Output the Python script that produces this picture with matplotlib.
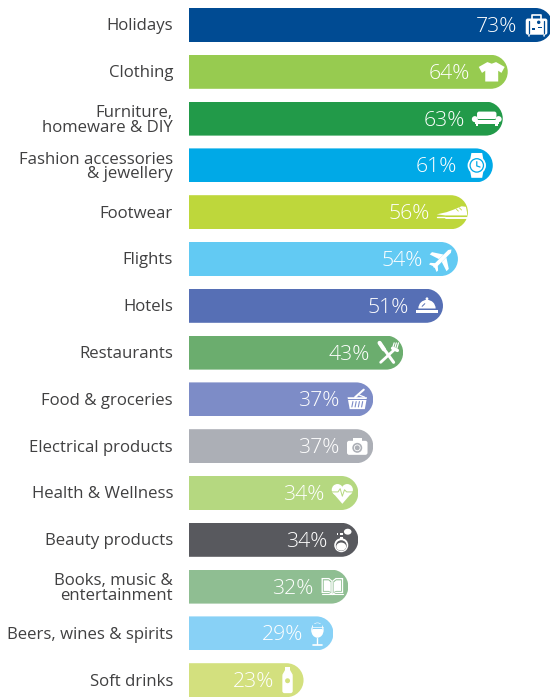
import matplotlib
matplotlib.use("Agg")
import matplotlib.pyplot as plt
from matplotlib.patches import Circle, FancyBboxPatch, PathPatch, Polygon, Rectangle, Wedge, Ellipse
from matplotlib.path import Path
from matplotlib.transforms import Affine2D

plt.rcParams['font.family'] = ['Open Sans', 'DejaVu Sans']

categories = ["Holidays", "Clothing", "Furniture,\nhomeware & DIY",
              "Fashion accessories\n& jewellery", "Footwear", "Flights", "Hotels",
              "Restaurants", "Food & groceries", "Electrical products",
              "Health & Wellness", "Beauty products", "Books, music &\nentertainment",
              "Beers, wines & spirits", "Soft drinks"]
values = [73, 64, 63, 61, 56, 54, 51, 43, 37, 37, 34, 34, 32, 29, 23]
colors = ["#004B93", "#97CB50", "#229A49", "#00A9E7", "#BED73B", "#62CAF3", "#566FB5",
          "#6BAD6E", "#7D8CC7", "#ACAFB6", "#B5D880", "#58595E", "#8FBE92", "#88D1F6",
          "#D3E07E"]
icons = ["case", "shirt", "sofa", "watch", "shoe", "plane", "bell", "cutlery",
         "basket", "camera", "heart", "perfume", "book", "wine", "bottle"]

# px distance of the value label from the end of the bar
label_gap = [35, 38, 38, 36, 38, 35, 34, 33, 34, 34, 34, 31, 35, 30, 29]

W = "white"
PX_X = 4.98     # px per percent
PX_Y = 46.8     # px per row
BAR_H = 34 / PX_Y
R = 17 / PX_X   # end cap radius in x units
K = 0.5523      # bezier factor for a quarter circle

fig = plt.figure(figsize=(5.5, 6.97), dpi=100)
ax = fig.add_axes([0, 0, 1, 1])
ax.set_xlim(-189 / PX_X, 361 / PX_X)
ax.set_ylim((697 - 25) / PX_Y, -25 / PX_Y)
ax.axis("off")


def cap_path(v, i):
    # shape used to clip a bar: square on the left, semicircle on the right
    t, b, h = i - BAR_H / 2, i + BAR_H / 2, BAR_H / 2
    verts = [(-5, t), (v - R, t), (v - R + K * R, t), (v, i - K * h), (v, i),
             (v, i + K * h), (v - R + K * R, b), (v - R, b), (-5, b), (-5, t)]
    codes = [Path.MOVETO, Path.LINETO, Path.CURVE4, Path.CURVE4, Path.CURVE4,
             Path.CURVE4, Path.CURVE4, Path.CURVE4, Path.LINETO, Path.CLOSEPOLY]
    return Path(verts, codes)


def draw_icon(name, tr, col):
    def poly(pts, fc=W):
        ax.add_patch(Polygon(pts, closed=True, fc=fc, ec="none", transform=tr))

    def rect(x, y, w, h, fc=W):
        ax.add_patch(Rectangle((x, y), w, h, fc=fc, ec="none", transform=tr))

    def rnd(x, y, w, h, r, fc=W, ec="none", lw=0):
        ax.add_patch(FancyBboxPatch((x + r, y + r), w - 2 * r, h - 2 * r,
                                    boxstyle=f"round,pad={r},rounding_size={r}",
                                    fc=fc, ec=ec, lw=lw, transform=tr))

    def circ(x, y, r, fc=W, ec="none", lw=0):
        ax.add_patch(Circle((x, y), r, fc=fc, ec=ec, lw=lw, transform=tr))

    def line(xs, ys, lw=1.0, c=W):
        ax.plot(xs, ys, color=c, lw=lw, transform=tr, solid_capstyle="round")

    if name == "case":
        rnd(-10, -6, 20, 15, 2)
        line([-4, -4, 4, 4], [-6, -9.5, -9.5, -6], 1.2)
        line([-7, -7], [-4, 7], 0.9, col)
        line([7, 7], [-4, 7], 0.9, col)
        circ(2, -2.5, 1.6, col)
        rect(1, 2, 4, 1.2, col)
        rect(-4, 3, 3, 1.2, col)
        circ(-7, 10, 0.8)
        circ(7, 10, 0.8)
    elif name == "shirt":
        poly([(-4, -9), (0, -7.5), (4, -9), (12, -4.5), (9, 1), (6, -1), (6, 9),
              (-6, 9), (-6, -1), (-9, 1), (-12, -4.5)])
    elif name == "sofa":
        rnd(-9, -6.5, 18, 7, 2)
        circ(-11, 0.5, 2.8)
        circ(11, 0.5, 2.8)
        rect(-11, 1, 22, 4)
        line([-7, 7], [0.8, 0.8], 0.7, col)
        rect(-10, 5, 2, 1.5)
        rect(8, 5, 2, 1.5)
    elif name == "watch":
        poly([(-5, -11.5), (5, -11.5), (6, -6), (-6, -6)])
        poly([(-5, 11.5), (5, 11.5), (6, 6), (-6, 6)])
        circ(0, 0, 8.5)
        circ(0, 0, 6.8, col)
        circ(0, 0, 5.6)
        line([0, 0, 3], [-3.5, 0.5, 1.5], 0.9, col)
    elif name == "shoe":
        poly([(-14, 2), (-5, 0), (2, -2.5), (9, -5.5), (13, -5), (14, 0), (14, 3), (-6, 3)])
        line([-14, -6], [4.3, 4.3], 1.0)
        line([-5, 14], [5, 5], 1.4)
        line([4, 6], [-3, -1], 0.6, col)
        line([7, 9], [-4, -2], 0.6, col)
    elif name == "plane":
        pl = Affine2D().rotate_deg(45) + tr
        for pts in ([(-1.8, -10), (0, -12.5), (1.8, -10), (1.8, 10), (0, 11), (-1.8, 10)],
                    [(-1.8, -4), (-11, 2), (-11, 5), (-1.8, 2)],
                    [(1.8, -4), (11, 2), (11, 5), (1.8, 2)],
                    [(-1.5, 7), (-5, 10), (-5, 12), (0, 10), (5, 12), (5, 10), (1.5, 7)]):
            ax.add_patch(Polygon(pts, closed=True, fc=W, ec="none", transform=pl))
    elif name == "bell":
        ax.add_patch(Wedge((0, 2.5), 8, 180, 360, fc=W, ec="none", transform=tr))
        rect(-10, 4, 20, 2.5)
        circ(0, -6.5, 1.3)
        line([-4.5, -2], [0.5, -2], 0.7, col)
    elif name == "cutlery":
        line([-7, 6], [-9, 9], 2.2)
        line([-7, -3], [-9, -3], 3.0)
        line([7, -6], [-3, 9], 2.0)
        for dx in (5, 7, 9):
            line([dx, dx + 1.5], [-4, -9], 0.9)
        line([5, 9.5], [-4, -2], 2.4)
    elif name == "basket":
        poly([(-9, -2), (9, -2), (7, 9), (-7, 9)])
        for dx in (-5, -2, 1, 4):
            line([dx + 1, dx], [2, 7], 0.8, col)
        line([-9.5, 9.5], [-0.4, -0.4], 0.7, col)
        line([-2, 6], [-2, -9], 1.5)
        line([2, 7], [-4, -2], 0.9)
    elif name == "camera":
        rnd(-9.5, -5, 19, 13, 2)
        rect(-4, -7.5, 8, 3)
        circ(0, 1.5, 4.6, col)
        circ(0, 1.5, 3.1)
        circ(0, 1.5, 2.3, col)
    elif name == "heart":
        circ(-4.5, -3, 5.3)
        circ(4.5, -3, 5.3)
        poly([(-9.3, -0.8), (9.3, -0.8), (0, 10)])
        rect(-3, -5, 6, 6)
        line([-10, -4, -2, 0, 2, 4, 10], [-1, -1, -4, 3, -3, -1, -1], 0.7, col)
    elif name == "perfume":
        circ(-1, 5, 6.5)
        circ(-1, 5.4, 5, col)
        ax.add_patch(Ellipse((-1, 6.3), 9.2, 7.5, fc=W, ec="none", transform=tr))
        rect(-2.5, -3, 3, 2.5)
        rect(-2.5, -6, 3, 2)
        ax.add_patch(Ellipse((5, -7.5), 7, 5.5, fc=W, ec="none", transform=tr))
        rect(-5, -6, 1.2, 1.2)
    elif name == "book":
        for s in (-1, 1):
            poly([(0, -5.5), (s * 3, -8), (s * 10, -8), (s * 10, 6), (s * 3, 6), (0, 8)])
            poly([(s * 1, -5), (s * 3.5, -6.8), (s * 8.8, -6.8), (s * 8.8, 4.8),
                  (s * 3.5, 4.8), (s * 1, 6)], fc=col)
            poly([(s * 1.5, -4), (s * 3.5, -5.8), (s * 8, -5.8), (s * 8, 4),
                  (s * 3.5, 4), (s * 1.5, 5)])
        line([-10, 10], [7.3, 7.3], 0.8)
    elif name == "wine":
        ax.add_patch(Ellipse((0, -3), 11.5, 14, fc=W, ec="none", transform=tr))
        ax.add_patch(Ellipse((0, -4.5), 9, 10, fc=col, ec="none", transform=tr))
        ax.add_patch(Ellipse((0, -2.5), 9, 9, fc=W, ec="none", transform=tr))
        rect(-4.5, -9, 9, 5, col)
        line([-4.8, 4.8], [-5.5, -5.5], 0.5)
        line([0, 0], [4, 10], 1.0)
        line([-4, 4], [11, 11], 1.2)
    elif name == "bottle":
        rect(-2.5, -12, 5, 2.5)
        poly([(-2, -10), (2, -10), (4.8, -5), (-4.8, -5)])
        rnd(-4.8, -6, 9.6, 18, 2)
        circ(0, 0.5, 2.3, col)


for i, (v, col, name) in enumerate(zip(values, colors, icons)):
    bar = ax.barh(i, v, height=BAR_H, color=col, linewidth=0)[0]
    clip = PathPatch(cap_path(v, i), fc="none", ec="none", transform=ax.transData)
    bar.set_clip_path(clip)

    ax.text(-16 / PX_X, i + 1.5 / PX_Y, categories[i], ha="right", va="center", fontsize=12.1,
            color="#404041", linespacing=0.9)
    ax.text(v - label_gap[i] / PX_X, i + 2 / PX_Y, f"{v}%", ha="right", va="center", fontsize=15.3,
            color=W, fontweight="light")

    ex, ey = ax.transData.transform((v - 16 / PX_X, i))
    tr = Affine2D().scale(1.08, -1.08).translate(ex, ey)
    draw_icon(name, tr, col)

ax.set_xlim(-189 / PX_X, 361 / PX_X)
ax.set_ylim((697 - 25) / PX_Y, -25 / PX_Y)
fig.savefig("out.png", dpi=100)
